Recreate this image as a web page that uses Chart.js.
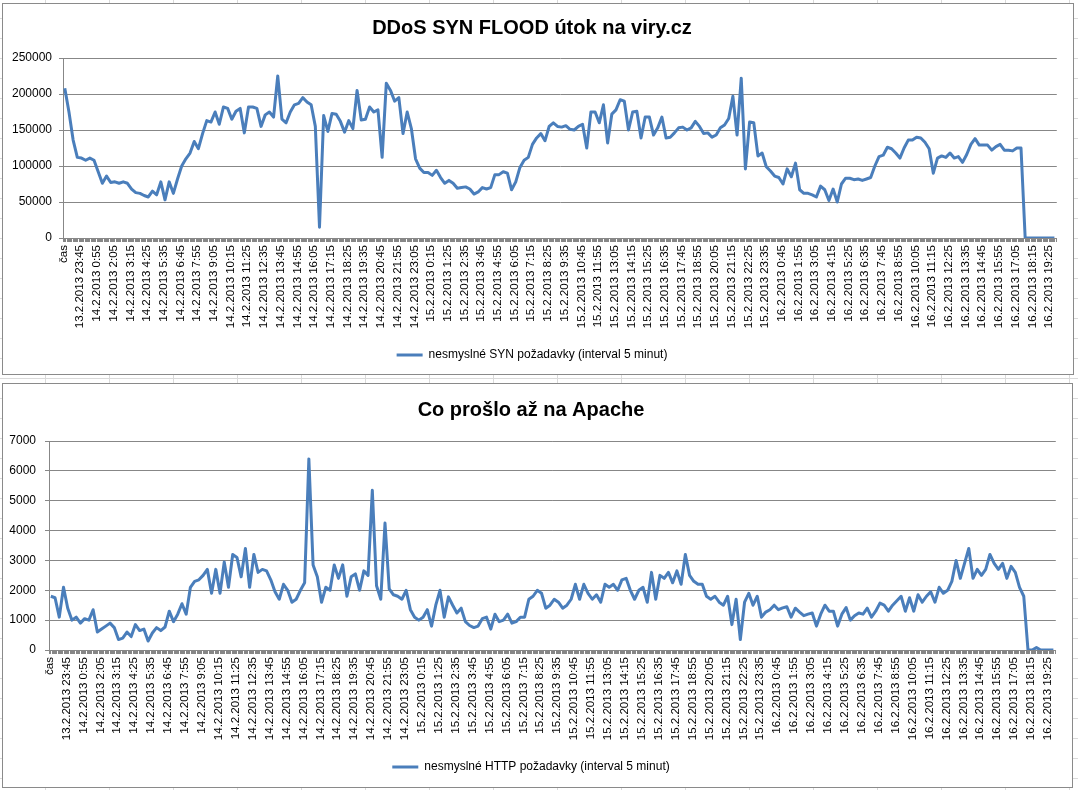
<!DOCTYPE html>
<html lang="cs">
<head>
<meta charset="utf-8">
<title>DDoS SYN FLOOD útok na viry.cz</title>
<script src="https://cdn.jsdelivr.net/npm/chart.js@4.4.1/dist/chart.umd.min.js"></script>
<style>
  html, body { margin: 0; padding: 0; }
  body {
    width: 1078px;
    height: 790px;
    overflow: hidden;
    position: relative;
    background-color: #fff;
    background-image:
      repeating-linear-gradient(to right, transparent 0 45px, #dadada 45px 46px, transparent 46px 64px),
      repeating-linear-gradient(to bottom, transparent 0 18px, #dadada 18px 19px, transparent 19px 20px);
  }
  .box {
    position: absolute;
    background: #fff;
    border: 1px solid #8a8a8a;
  }
  #box1 { left: 2px; top: 3px; width: 1070px; height: 370px; }
  #box2 { left: 2px; top: 383px; width: 1069px; height: 403px; }
</style>
</head>
<body>
<div class="box" id="box1"><canvas id="synChart"></canvas></div>
<div class="box" id="box2"><canvas id="httpChart"></canvas></div>

<script>
// popisky osy x - kazdy 14. radek (70 minut), radek 0 je hlavicka "čas"
const tickLabels = [
    'čas', '13.2.2013 23:45',
    '14.2.2013 0:55', '14.2.2013 2:05', '14.2.2013 3:15', '14.2.2013 4:25', '14.2.2013 5:35',
    '14.2.2013 6:45', '14.2.2013 7:55', '14.2.2013 9:05', '14.2.2013 10:15', '14.2.2013 11:25',
    '14.2.2013 12:35', '14.2.2013 13:45', '14.2.2013 14:55', '14.2.2013 16:05', '14.2.2013 17:15',
    '14.2.2013 18:25', '14.2.2013 19:35', '14.2.2013 20:45', '14.2.2013 21:55', '14.2.2013 23:05',
    '15.2.2013 0:15', '15.2.2013 1:25', '15.2.2013 2:35', '15.2.2013 3:45', '15.2.2013 4:55',
    '15.2.2013 6:05', '15.2.2013 7:15', '15.2.2013 8:25', '15.2.2013 9:35', '15.2.2013 10:45',
    '15.2.2013 11:55', '15.2.2013 13:05', '15.2.2013 14:15', '15.2.2013 15:25', '15.2.2013 16:35',
    '15.2.2013 17:45', '15.2.2013 18:55', '15.2.2013 20:05', '15.2.2013 21:15', '15.2.2013 22:25',
    '15.2.2013 23:35',
    '16.2.2013 0:45', '16.2.2013 1:55', '16.2.2013 3:05', '16.2.2013 4:15', '16.2.2013 5:25',
    '16.2.2013 6:35', '16.2.2013 7:45', '16.2.2013 8:55', '16.2.2013 10:05', '16.2.2013 11:15',
    '16.2.2013 12:25', '16.2.2013 13:35', '16.2.2013 14:45', '16.2.2013 15:55', '16.2.2013 17:05',
    '16.2.2013 18:15', '16.2.2013 19:25'
];

// SYN pozadavky, jeden vzorek na 3.5 radku
const synValues = [
    208000, 175000, 136000, 112000, 111000, 108000, 111000, 108000, 92000, 76000,
    86000, 77000, 78000, 76000, 78000, 76000, 68000, 63000, 62000, 59000,
    57000, 65000, 60000, 78000, 53000, 78000, 62000, 82000, 100000, 110000,
    118000, 134000, 124000, 145000, 163000, 161000, 175000, 158000, 182000, 180000,
    165000, 176000, 180000, 146000, 182000, 182000, 180000, 155000, 171000, 175000,
    168000, 225000, 165000, 160000, 175000, 185000, 187000, 195000, 189000, 185000,
    155000, 15000, 170000, 148000, 173000, 172000, 162000, 147000, 163000, 152000,
    205000, 164000, 165000, 182000, 175000, 178000, 112000, 215000, 205000, 190000,
    195000, 145000, 175000, 152000, 110000, 97000, 91000, 91000, 87000, 94000,
    84000, 76000, 80000, 76000, 69000, 70000, 71000, 68000, 61000, 64000,
    70000, 68000, 70000, 88000, 88000, 92000, 90000, 67000, 78000, 98000,
    108000, 112000, 130000, 139000, 145000, 135000, 155000, 160000, 155000, 154000,
    156000, 151000, 150000, 155000, 158000, 125000, 175000, 175000, 160000, 185000,
    132000, 172000, 178000, 192000, 190000, 150000, 175000, 176000, 139000, 168000,
    168000, 143000, 153000, 168000, 139000, 140000, 146000, 153000, 154000, 150000,
    153000, 162000, 155000, 145000, 146000, 140000, 143000, 153000, 157000, 166000,
    197000, 143000, 222000, 96000, 161000, 160000, 114000, 118000, 99000, 93000,
    86000, 84000, 75000, 96000, 85000, 104000, 67000, 62000, 62000, 60000,
    57000, 72000, 67000, 52000, 68000, 50000, 75000, 83000, 83000, 81000,
    82000, 80000, 82000, 84000, 100000, 113000, 115000, 126000, 124000, 118000,
    111000, 125000, 136000, 136000, 140000, 139000, 133000, 124000, 90000, 111000,
    114000, 112000, 118000, 111000, 113000, 105000, 116000, 130000, 138000, 129000,
    129000, 129000, 122000, 127000, 130000, 122000, 122000, 121000, 125000, 125000,
    0, 0, 0, 0, 0, 0, 0, 0
];

// HTTP pozadavky, ktere prosly na Apache - stejne vzorkovani
const httpValues = [
    1800, 1750, 1100, 2100, 1400, 1000, 1100, 900, 1050, 1000,
    1350, 600, 700, 800, 900, 750, 350, 400, 600, 450,
    850, 650, 700, 300, 570, 750, 650, 770, 1300, 950,
    1200, 1550, 1200, 2100, 2300, 2350, 2500, 2700, 1900, 2700,
    1900, 2950, 2100, 3200, 3100, 2450, 3400, 2100, 3200, 2600,
    2700, 2650, 2350, 1950, 1700, 2200, 2000, 1600, 1700, 2000,
    2250, 6400, 2850, 2450, 1600, 2100, 2000, 2850, 2400, 2850,
    1800, 2450, 2550, 2000, 2650, 2500, 5350, 2150, 1700, 4250,
    2050, 1850, 1800, 1700, 2000, 1350, 1100, 1000, 1100, 1350,
    800, 1500, 2000, 1100, 1780, 1500, 1240, 1400, 950, 820,
    750, 800, 1050, 1100, 700, 1200, 950, 1000, 1200, 900,
    950, 1100, 1100, 1700, 1800, 2000, 1900, 1400, 1500, 1700,
    1600, 1400, 1500, 1700, 2200, 1700, 2200, 1900, 1700, 1850,
    1600, 2200, 2100, 2200, 2000, 2350, 2400, 2000, 1700, 2000,
    2100, 1600, 2600, 1700, 2500, 2400, 2600, 2250, 2650, 2200,
    3200, 2500, 2300, 2200, 2200, 1800, 1700, 1800, 1600, 1500,
    1800, 850, 1700, 350, 1600, 1900, 1500, 1800, 1100, 1270,
    1350, 1500, 1350, 1410, 1450, 1100, 1400, 1270, 1150, 1200,
    1240, 800, 1200, 1500, 1300, 1300, 800, 1200, 1420, 1000,
    1150, 1240, 1200, 1400, 1100, 1300, 1570, 1500, 1300, 1500,
    1650, 1800, 1300, 1750, 1300, 1850, 1600, 1800, 1950, 1600,
    2100, 1900, 2000, 2300, 3000, 2400, 2900, 3400, 2400, 2700,
    2500, 2700, 3200, 2900, 2700, 2900, 2400, 2800, 2600, 2100,
    1800, 0, 0, 80, 0, 0, 0, 0
];

const FIRST_ROW = 1;      // radek 0 je "čas"
const LAST_ROW = 832;
const SAMPLE_STEP = 3.5;  // radku mezi odectenymi vzorky
const LABEL_EVERY = 14;

const lineBlue = '#4a7ebb';
const gridGrey = '#878787';
const fontFamily = "'Liberation Sans', Arial, sans-serif";

function toPoints(values) {
    return values.map((v, i) => ({ x: FIRST_ROW + i * SAMPLE_STEP, y: v }));
}

function makeChart(canvasId, cfg) {
    const ctx = document.getElementById(canvasId).getContext('2d');
    return new Chart(ctx, {
        type: 'line',
        data: {
            datasets: [{
                label: cfg.legend,
                data: toPoints(cfg.values),
                borderColor: lineBlue,
                backgroundColor: lineBlue,
                borderWidth: 3,
                borderJoinStyle: 'round',
                pointRadius: 0,
                tension: 0
            }]
        },
        options: {
            responsive: true,
            maintainAspectRatio: false,
            animation: false,
            layout: { padding: { left: 0, top: 0, right: cfg.padRight, bottom: cfg.padBottom } },
            plugins: {
                title: {
                    display: true,
                    text: cfg.title,
                    color: '#000',
                    font: { family: fontFamily, size: 20, weight: 'bold' },
                    padding: { top: cfg.titleTop, bottom: cfg.titleBottom }
                },
                legend: {
                    position: 'bottom',
                    labels: {
                        color: '#000',
                        font: { family: fontFamily, size: 12 },
                        boxWidth: 26,
                        boxHeight: 3,
                        generateLabels: function(chart) {
                            return Chart.defaults.plugins.legend.labels.generateLabels(chart)
                                .map(item => Object.assign(item, { lineWidth: 0 }));
                        }
                    }
                },
                tooltip: { enabled: false }
            },
            scales: {
                x: {
                    type: 'linear',
                    bounds: 'data',
                    min: -0.5,
                    max: LAST_ROW + 0.5,
                    afterBuildTicks: function(scale) {
                        // znacka u kazdeho radku, popisek jen u kazdeho 14.
                        const ticks = [];
                        for (let i = 0; i <= LAST_ROW; i++) ticks.push({ value: i });
                        scale.ticks = ticks;
                    },
                    afterFit: function(scale) { scale.height = cfg.xHeight; },
                    grid: { drawOnChartArea: false, drawTicks: true, tickLength: 4, color: gridGrey },
                    border: { color: gridGrey },
                    ticks: {
                        autoSkip: false,
                        minRotation: 90,
                        maxRotation: 90,
                        padding: 3,
                        color: '#000',
                        font: { family: fontFamily, size: 11.5 },
                        callback: function(value) {
                            return value % LABEL_EVERY === 0 ? tickLabels[value / LABEL_EVERY] : '';
                        }
                    }
                },
                y: {
                    min: 0,
                    max: cfg.yMax,
                    afterFit: function(scale) { scale.width = cfg.yWidth; },
                    grid: { color: gridGrey, tickLength: 4 },
                    border: { color: gridGrey },
                    ticks: {
                        stepSize: cfg.yStep,
                        padding: cfg.yPad,
                        color: '#000',
                        font: { family: fontFamily, size: 12 },
                        callback: function(value) { return String(value); }
                    }
                }
            }
        }
    });
}

makeChart('synChart', {
    title: 'DDoS SYN FLOOD útok na viry.cz',
    legend: 'nesmyslné SYN požadavky (interval 5 minut)',
    values: synValues,
    yMax: 250000, yStep: 50000, yWidth: 60, yPad: 7,
    titleTop: 12, titleBottom: 18,
    xHeight: 101, padBottom: 3, padRight: 12
});

makeChart('httpChart', {
    title: 'Co prošlo až na Apache',
    legend: 'nesmyslné HTTP požadavky (interval 5 minut)',
    values: httpValues,
    yMax: 7000, yStep: 1000, yWidth: 46, yPad: 9,
    titleTop: 14, titleBottom: 19,
    xHeight: 101, padBottom: 4, padRight: 13
});
</script>
</body>
</html>
